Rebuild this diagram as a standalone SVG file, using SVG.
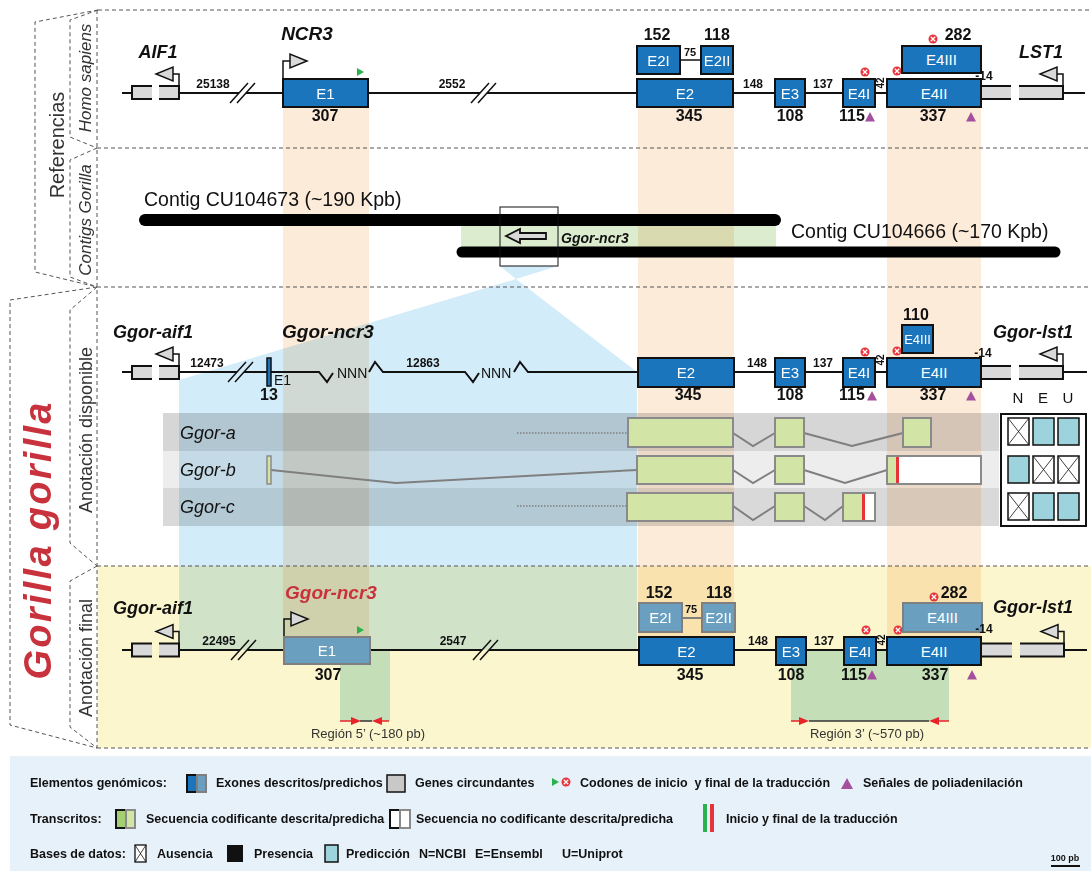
<svg xmlns="http://www.w3.org/2000/svg" width="1091" height="871" viewBox="0 0 1091 871">
<style>
text{font-family:"Liberation Sans",Arial,sans-serif;fill:#111}
.dash{fill:none;stroke:#555;stroke-width:1;stroke-dasharray:4 3}
.mul{mix-blend-mode:multiply}
.ex{fill:#1b75bc;stroke:#111;stroke-width:2}
.exp{fill:#6a9fbf;stroke:#7f7f7f;stroke-width:2}
.et{fill:#fff;font-size:15px;text-anchor:middle}
.num{font-size:16px;font-weight:bold;text-anchor:middle}
.sn{font-size:12px;font-weight:bold;text-anchor:middle}
.tn{font-size:10px;font-weight:bold;text-anchor:middle}
.gn{font-weight:bold;font-style:italic;font-size:18px}
.ln{stroke:#111;stroke-width:2;fill:none}
.gb{fill:#d9d9d9}
.gbs{fill:none;stroke:#111;stroke-width:2}
.prl{fill:none;stroke:#111;stroke-width:1.5}
.prom{fill:#d9d9d9;stroke:#111;stroke-width:1.5}
.tr{fill:#d3e4a7;stroke:#8a8a8a;stroke-width:2}
.tl{fill:none;stroke:#7f7f7f;stroke-width:2}
.dot{fill:none;stroke:#7f7f7f;stroke-width:1.5;stroke-dasharray:1.5 1.5}
.lg{font-size:12.5px;font-weight:bold}
.side{font-size:18px;fill:#333;text-anchor:middle}
.tc{fill:#9dd3dc;stroke:#111;stroke-width:1.5}
.rg{font-size:13px;fill:#333;text-anchor:middle}
.tlab{font-size:18px;font-style:italic}
</style>
<defs>
<g id="stop"><circle r="4.5" fill="#e8333a"/><path d="M-2.2,-2.2L2.2,2.2M2.2,-2.2L-2.2,2.2" stroke="#fff" stroke-width="1.3"/></g>
<path id="polyA" d="M0,-5L5,4.5H-5Z" fill="#a5509f"/>
<path id="startc" d="M-3,-4L4,0L-3,4Z" fill="#2bb24c"/>
<path id="brk" d="M-12,10L6,-10M-5,10L13,-10" stroke="#111" stroke-width="1.5" fill="none"/>
<g id="xcell"><rect width="21" height="27" fill="#fff" stroke="#111" stroke-width="1.5"/><path d="M0,0L21,27M21,0L0,27" stroke="#111" stroke-width="0.8"/></g>
<g id="aifbox"><rect class="gb" width="20" height="13"/><rect class="gb" x="27" width="20" height="13"/><path class="gbs" d="M20,0H0V13H20M27,0H47V13H27"/></g>
<g id="lstbox"><rect class="gb" width="34" height="13"/><rect class="gb" x="42" width="44" height="13"/><path class="gbs" d="M34,0H0V13H34M42,0H86V13H42"/></g>
<g id="lprom"><path class="prl" d="M0,0V-12H-6"/><path class="prom" d="M-6,-19V-5L-23,-12Z"/></g>
<g id="rprom"><path class="prl" d="M0,0V-18H7"/><path class="prom" d="M7,-25V-11L24,-18Z"/></g>
</defs>

<g id="backgrounds">
<rect x="97" y="566" width="994" height="182" fill="#fcf6ce"/>
<rect x="10" y="756" width="1081" height="115" fill="#e7f1fa"/>
<path class="mul" d="M500,266H558L516,279Z" fill="#d3ecf9"/>
<path class="mul" d="M516,279L179,380V650H637V372Z" fill="#d3ecf9"/>
<rect class="mul" x="283" y="100" width="86" height="537" fill="#fdebd9"/>
<rect class="mul" x="638" y="100" width="96" height="537" fill="#fdebd9"/>
<rect class="mul" x="887" y="100" width="94" height="537" fill="#fdebd9"/>
<rect class="mul" x="461" y="226" width="315" height="21" fill="#dcedcf"/>
<rect class="mul" x="163" y="413" width="836" height="38" fill="#d6d6d6"/>
<rect class="mul" x="163" y="451" width="836" height="37" fill="#ededed"/>
<rect class="mul" x="163" y="488" width="836" height="38" fill="#d9d9d9"/>
<rect x="340" y="651" width="50" height="70" fill="#c4dfb8"/>
<rect x="791" y="651" width="158" height="70" fill="#c4dfb8"/>
</g>

<g id="frame">
<path class="dash" d="M98,10H1090M97,148H1090M97,287H1090M97,566H1090M97,748H1090M97,10V748"/>
<path class="dash" d="M98,10L35,22V272L97,287"/>
<path class="dash" d="M98,10L70,20V137L97,148"/>
<path class="dash" d="M97,148L70,160V277L97,287"/>
<path class="dash" d="M97,287L10,300V725L97,748"/>
<path class="dash" d="M97,287L70,310V543L97,566"/>
<path class="dash" d="M97,566L70,581V727L97,748"/>
<text class="side" transform="translate(64,145) rotate(-90)" style="font-size:20px">Referencias</text>
<text class="side" transform="translate(91,78) rotate(-90)" style="font-size:17px;font-style:italic">Homo sapiens</text>
<text class="side" transform="translate(91,220) rotate(-90)" style="font-size:17px;font-style:italic">Contigs Gorilla</text>
<text transform="translate(51,541) rotate(-90)" text-anchor="middle" textLength="277" lengthAdjust="spacing" style="font-size:38px;font-weight:bold;font-style:italic;fill:#c8323c">Gorilla gorilla</text>
<text class="side" transform="translate(92,430) rotate(-90)">Anotación disponible</text>
<text class="side" transform="translate(92,658) rotate(-90)">Anotación final</text>
</g>

<g id="homo">
<path class="ln" d="M122,93H132M179,93H239M246,93H480M487,93H977M1063,93H1085"/>
<use href="#brk" x="242" y="93"/>
<use href="#brk" x="483" y="93"/>
<use href="#aifbox" x="132" y="86"/>
<use href="#lprom" x="179" y="86"/>
<text class="gn" x="158" y="58" text-anchor="middle">AIF1</text>
<text class="sn" x="213" y="88">25138</text>
<use href="#rprom" x="283" y="79"/>
<text class="gn" x="307" y="40" text-anchor="middle" style="font-size:19px">NCR3</text>
<use href="#lstbox" x="977" y="86"/>
<use href="#lprom" x="1063" y="86"/>
<text class="gn" x="1041" y="58" text-anchor="middle">LST1</text>
<rect class="ex" x="283" y="79" width="85" height="28"/><text class="et" x="325.5" y="99">E1</text>
<use href="#startc" x="360" y="72"/>
<text class="num" x="325" y="121">307</text>
<text class="sn" x="452" y="88">2552</text>
<path class="ln" d="M680,60H701" style="stroke-width:1.5"/>
<rect class="ex" x="637" y="46" width="43" height="28"/><text class="et" x="658.5" y="66">E2I</text>
<rect class="ex" x="701" y="46" width="32" height="28"/><text class="et" x="717" y="66">E2II</text>
<text class="tn" x="690" y="56" style="font-size:11px">75</text>
<text class="num" x="657" y="40">152</text>
<text class="num" x="717" y="40">118</text>
<rect class="ex" x="637" y="79" width="96" height="28"/><text class="et" x="685" y="99">E2</text>
<text class="num" x="689" y="121">345</text>
<text class="sn" x="753" y="88">148</text>
<rect class="ex" x="775" y="79" width="30" height="28"/><text class="et" x="790" y="99">E3</text>
<text class="num" x="790" y="121">108</text>
<text class="sn" x="823" y="88">137</text>
<rect class="ex" x="843" y="79" width="32" height="28"/><text class="et" x="859" y="99">E4I</text>
<use href="#stop" x="865" y="72"/>
<text class="tn" transform="translate(884,83) rotate(-90)">42</text>
<rect class="ex" x="887" y="79" width="94" height="28"/><text class="et" x="934" y="99">E4II</text>
<use href="#stop" x="897" y="71"/>
<rect class="ex" x="902" y="46" width="79" height="27"/><text class="et" x="941.5" y="65">E4III</text>
<use href="#stop" x="933" y="39"/>
<text class="num" x="958" y="40">282</text>
<text class="num" x="852" y="121">115</text>
<use href="#polyA" x="870" y="117"/>
<text class="num" x="933" y="121">337</text>
<use href="#polyA" x="971" y="117"/>
<text class="sn" x="984" y="80" text-anchor="start">-14</text>
</g>

<g id="contigs">
<text x="144" y="206" style="font-size:19.5px">Contig CU104673 (~190 Kpb)</text>
<path d="M145,220H775" stroke="#000" stroke-width="12" stroke-linecap="round"/>
<text x="791" y="238" style="font-size:19.5px">Contig CU104666 (~170 Kpb)</text>
<path d="M462,252H1055" stroke="#000" stroke-width="11" stroke-linecap="round"/>
<rect x="500" y="207" width="58" height="59" fill="none" stroke="#111" stroke-width="1"/>
<path d="M506,236L520,229V233H546V239H520V243Z" fill="#d9d9d9" stroke="#111" stroke-width="1.8"/>
<text class="gn" x="561" y="243" style="font-size:14px">Ggor-ncr3</text>
</g>

<g id="gorilla-disponible">
<path class="ln" d="M122,372H132M179,372H237M244,372H319L327,382L333,373M369,372L375,362L383,372H465L473,382L479,373M514,372L520,362L528,372H977M1063,372H1087"/>
<text x="337" y="378" style="font-size:14px">NNN</text>
<text x="481" y="378" style="font-size:14px">NNN</text>
<use href="#brk" x="240" y="372"/>
<use href="#aifbox" x="132" y="366"/>
<use href="#lprom" x="179" y="366"/>
<text class="gn" x="113" y="338">Ggor-aif1</text>
<text class="sn" x="207" y="367">12473</text>
<rect class="ex" x="267" y="358" width="4" height="28" style="stroke-width:1.5"/>
<text x="274" y="385" style="font-size:14px">E1</text>
<text class="num" x="269" y="400">13</text>
<text class="gn" x="282" y="338" style="font-size:19px">Ggor-ncr3</text>
<text class="sn" x="423" y="367">12863</text>
<use href="#lstbox" x="977" y="366"/>
<use href="#lprom" x="1063" y="366"/>
<text class="gn" x="993" y="338">Ggor-lst1</text>
<rect class="ex" x="638" y="358" width="96" height="29"/><text class="et" x="686" y="378">E2</text>
<text class="num" x="688" y="400">345</text>
<text class="sn" x="757" y="367">148</text>
<rect class="ex" x="775" y="358" width="30" height="29"/><text class="et" x="790" y="378">E3</text>
<text class="num" x="790" y="400">108</text>
<text class="sn" x="823" y="367">137</text>
<rect class="ex" x="843" y="358" width="32" height="29"/><text class="et" x="859" y="378">E4I</text>
<use href="#stop" x="865" y="352"/>
<text class="num" x="852" y="400">115</text>
<use href="#polyA" x="872" y="396"/>
<text class="tn" transform="translate(884,360) rotate(-90)">42</text>
<rect class="ex" x="887" y="358" width="94" height="29"/><text class="et" x="934" y="378">E4II</text>
<use href="#stop" x="897" y="351"/>
<rect class="ex" x="902" y="325" width="31" height="28"/><text class="et" x="917.5" y="344" style="font-size:13px">E4III</text>
<text class="num" x="916" y="320">110</text>
<text class="num" x="933" y="400">337</text>
<use href="#polyA" x="971" y="396"/>
<text class="sn" x="983" y="357" text-anchor="start">-14</text>
<text x="1018" y="403" text-anchor="middle" style="font-size:15px">N</text>
<text x="1043" y="403" text-anchor="middle" style="font-size:15px">E</text>
<text x="1068" y="403" text-anchor="middle" style="font-size:15px">U</text>
</g>

<g id="transcripts">
<text class="tlab" x="180" y="439">Ggor-a</text>
<text class="tlab" x="180" y="476">Ggor-b</text>
<text class="tlab" x="180" y="513">Ggor-c</text>
<path class="dot" d="M517,433H628"/>
<path class="tl" d="M733,433L753,446L775,433M804,433L852,446L903,433"/>
<rect class="tr" x="628" y="418" width="105" height="29"/>
<rect class="tr" x="775" y="418" width="29" height="29"/>
<rect class="tr" x="903" y="418" width="28" height="29"/>
<path class="tl" d="M271,470L396,483L637,470M733,470L753,483L775,470M804,470L845,483L887,470"/>
<rect class="tr" x="267" y="456" width="4" height="28" style="stroke-width:1.5"/>
<rect class="tr" x="637" y="456" width="96" height="28"/>
<rect class="tr" x="775" y="456" width="29" height="28"/>
<rect x="887" y="456" width="94" height="28" fill="#fff"/>
<rect x="887" y="456" width="9" height="28" fill="#d3e4a7"/>
<rect x="896" y="456" width="3" height="28" fill="#e8333a"/>
<rect x="887" y="456" width="94" height="28" fill="none" stroke="#8a8a8a" stroke-width="2"/>
<path class="dot" d="M517,506H627"/>
<path class="tl" d="M733,506L753,520L775,506M804,506L825,520L843,506"/>
<rect class="tr" x="627" y="493" width="106" height="28"/>
<rect class="tr" x="775" y="493" width="29" height="28"/>
<rect x="843" y="493" width="32" height="28" fill="#fff"/>
<rect x="843" y="493" width="20" height="28" fill="#d3e4a7"/>
<rect x="862" y="493" width="3" height="28" fill="#e8333a"/>
<rect x="843" y="493" width="32" height="28" fill="none" stroke="#8a8a8a" stroke-width="2"/>
</g>

<g id="databases">
<rect x="1001" y="414" width="85" height="112" fill="#fff" stroke="#111" stroke-width="2"/>
<use href="#xcell" x="1008" y="418"/>
<rect class="tc" x="1033" y="418" width="21" height="27"/>
<rect class="tc" x="1058" y="418" width="21" height="27"/>
<rect class="tc" x="1008" y="456" width="21" height="27"/>
<use href="#xcell" x="1033" y="456"/>
<use href="#xcell" x="1058" y="456"/>
<use href="#xcell" x="1008" y="493"/>
<rect class="tc" x="1033" y="493" width="21" height="27"/>
<rect class="tc" x="1058" y="493" width="21" height="27"/>
</g>

<g id="gorilla-final">
<path class="ln" d="M122,650H132M179,650H240M247,650H482M489,650H977M1064,650H1087"/>
<use href="#brk" x="243" y="650"/>
<use href="#brk" x="485" y="650"/>
<use href="#aifbox" x="132" y="643.5"/>
<use href="#lprom" x="179" y="643.5"/>
<text class="gn" x="113" y="614">Ggor-aif1</text>
<text class="sn" x="219" y="645">22495</text>
<use href="#rprom" x="284" y="637"/>
<text class="gn" x="285" y="599" style="font-size:19px;fill:#c8323c">Ggor-ncr3</text>
<rect class="exp" x="284" y="637" width="86" height="27"/><text class="et" x="327" y="656">E1</text>
<use href="#startc" x="360" y="630"/>
<text class="num" x="328" y="680">307</text>
<text class="sn" x="453" y="645">2547</text>
<use href="#lstbox" x="978" y="643.5"/>
<use href="#lprom" x="1064" y="643.5"/>
<text class="gn" x="993" y="613">Ggor-lst1</text>
<path d="M682,618H702" stroke="#7f7f7f" stroke-width="2"/>
<rect class="exp" x="639" y="603" width="43" height="29"/><text class="et" x="660.5" y="623">E2I</text>
<rect class="exp" x="702" y="603" width="33" height="29"/><text class="et" x="718.5" y="623">E2II</text>
<text class="tn" x="691" y="613" style="font-size:11px">75</text>
<text class="num" x="659" y="598">152</text>
<text class="num" x="719" y="598">118</text>
<rect class="ex" x="639" y="637" width="95" height="28"/><text class="et" x="686.5" y="657">E2</text>
<text class="num" x="690" y="680">345</text>
<text class="sn" x="758" y="645">148</text>
<rect class="ex" x="776" y="637" width="30" height="28"/><text class="et" x="791" y="657">E3</text>
<text class="num" x="791" y="680">108</text>
<text class="sn" x="824" y="645">137</text>
<rect class="ex" x="844" y="637" width="32" height="28"/><text class="et" x="860" y="657">E4I</text>
<use href="#stop" x="866" y="630"/>
<text class="num" x="854" y="680">115</text>
<use href="#polyA" x="872" y="675"/>
<text class="tn" transform="translate(885,640) rotate(-90)">42</text>
<rect class="ex" x="887" y="637" width="94" height="28"/><text class="et" x="934" y="657">E4II</text>
<use href="#stop" x="898" y="630"/>
<rect class="exp" x="903" y="603" width="79" height="29"/><text class="et" x="942.5" y="623">E4III</text>
<use href="#stop" x="934" y="597"/>
<text class="num" x="954" y="598">282</text>
<text class="num" x="935" y="680">337</text>
<use href="#polyA" x="972" y="675"/>
<text class="sn" x="984" y="633" text-anchor="start">-14</text>
</g>

<g id="regions">
<path d="M360,721H372" stroke="#333" stroke-width="1.5"/>
<path d="M340,721H352M389,721H381" stroke="#e8232a" stroke-width="1.5"/>
<path d="M351,717L361,721L351,725Z M382,717L372,721L382,725Z" fill="#e8232a"/>
<text class="rg" x="368" y="738">Región 5’ (~180 pb)</text>
<path d="M809,721H929" stroke="#333" stroke-width="1.5"/>
<path d="M791,721H800M949,721H938" stroke="#e8232a" stroke-width="1.5"/>
<path d="M799,717L809,721L799,725Z M939,717L929,721L939,725Z" fill="#e8232a"/>
<text class="rg" x="867" y="738">Región 3’ (~570 pb)</text>
</g>

<g id="legend">
<text class="lg" x="30" y="787">Elementos genómicos:</text>
<rect class="ex" x="187" y="775" width="10" height="17"/>
<rect class="exp" x="197" y="775" width="9" height="17"/>
<text class="lg" x="216" y="787">Exones descritos/predichos</text>
<rect x="387" y="775" width="18" height="17" fill="#c8c8c8" stroke="#111" stroke-width="1.5"/>
<text class="lg" x="415" y="787">Genes circundantes</text>
<use href="#startc" x="555" y="782"/>
<use href="#stop" x="566" y="782"/>
<text class="lg" x="580" y="787">Codones de inicio&#160; y final de la traducción</text>
<path d="M841,789L847,778L853,789Z" fill="#a5509f"/>
<text class="lg" x="863" y="787">Señales de poliadenilación</text>

<text class="lg" x="30" y="823">Transcritos:</text>
<rect x="116" y="810" width="10" height="18" fill="#a5cf73" stroke="#111" stroke-width="2"/>
<rect x="126" y="810" width="9" height="18" fill="#d3e4a7" stroke="#8a8a8a" stroke-width="2"/>
<text class="lg" x="146" y="823">Secuencia codificante descrita/predicha</text>
<rect x="390" y="810" width="10" height="18" fill="#fff" stroke="#111" stroke-width="2"/>
<rect x="400" y="810" width="10" height="18" fill="#fff" stroke="#8a8a8a" stroke-width="2"/>
<text class="lg" x="416" y="823">Secuencia no codificante descrita/predicha</text>
<rect x="703" y="804" width="4" height="28" fill="#2bb24c"/>
<rect x="710" y="804" width="4" height="28" fill="#e8333a"/>
<text class="lg" x="726" y="823">Inicio y final de la traducción</text>

<text class="lg" x="30" y="858">Bases de datos:</text>
<rect x="135" y="845" width="11" height="17" fill="#fff" stroke="#111" stroke-width="1.3"/>
<path d="M135,845L146,862M146,845L135,862" stroke="#111" stroke-width="0.8"/>
<text class="lg" x="157" y="858">Ausencia</text>
<rect x="227" y="845" width="16" height="17" fill="#111"/>
<text class="lg" x="254" y="858">Presencia</text>
<rect class="tc" x="325" y="845" width="13" height="17"/>
<text class="lg" x="346" y="858">Predicción</text>
<text class="lg" x="419" y="858">N=NCBI</text>
<text class="lg" x="475" y="858">E=Ensembl</text>
<text class="lg" x="562" y="858">U=Uniprot</text>
<text x="1065" y="861" text-anchor="middle" style="font-size:9px;font-weight:bold">100 pb</text>
<path d="M1051,866H1080" stroke="#111" stroke-width="2"/>
</g>
</svg>
